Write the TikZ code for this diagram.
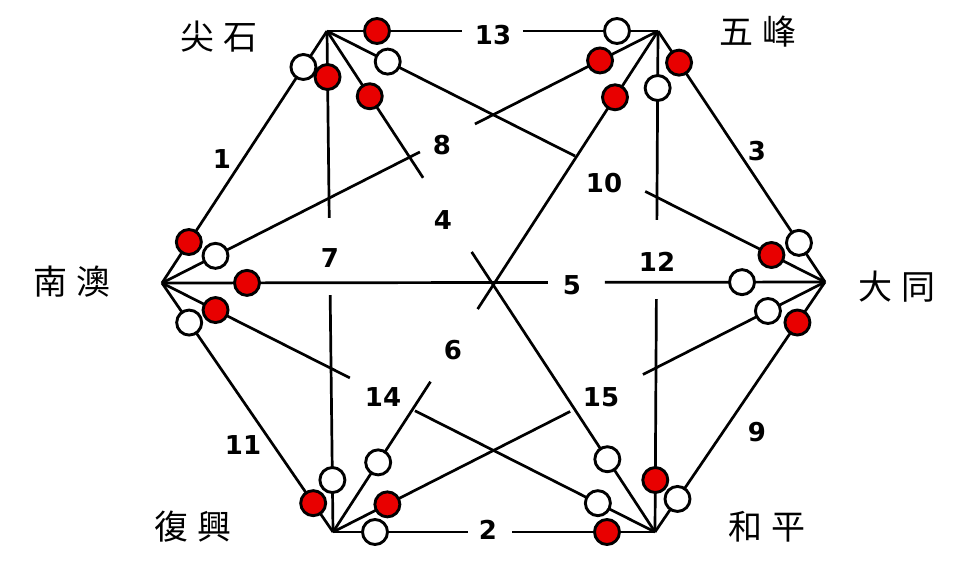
\documentclass[tikz,border=0pt]{standalone}
\usepackage{fontspec}
\setmainfont{DejaVu Sans}
\newfontfamily\cjk{Noto Sans CJK TC}
\usepackage{tikz}
\usetikzlibrary{positioning, %% place names
calc}                        %% dots and gaps on the links
\definecolor{dotred}{RGB}{232,0,0}

\begin{document}
\begin{tikzpicture}[x=1pt,y=-1pt,
                   link/.style={line width=2.7pt},
                   win/.style={circle,draw,line width=2.9pt,fill=dotred,
                               minimum size=25pt,inner sep=0pt},
                   lose/.style={win,fill=white},
                   num/.style={inner sep=0pt,font=\fontsize{26}{26}\selectfont\bfseries},
                   place/.style={inner sep=0pt,font=\cjk\fontsize{34}{34}\selectfont}]
\useasboundingbox (0,0) rectangle (967,563);
\coordinate (js) at (327,31);
\coordinate (wf) at (658,31);
\coordinate (dt) at (825,282);
\coordinate (hp) at (655,532);
\coordinate (fx) at (333,532);
\coordinate (na) at (162,283);

\node[place] (njs) at ($(js)+(-108,6)$) {尖\hspace{9pt}石};
\node[place] (nwf) at ($(wf)+(100,1)$)  {五\hspace{9pt}峰};
\node[place] (ndt) at ($(dt)+(72,5)$)   {大\hspace{9pt}同};
\node[place] (nhp) at ($(hp)+(112,-5)$) {和\hspace{9pt}平};
\node[place] (nfx) at ($(fx)+(-140,-5)$){復\hspace{9pt}興};
\node[place] (nna) at ($(na)+(-90,-1)$) {南\hspace{9pt}澳};

\draw[link] (js) -- (na);
\draw[link] (fx) -- ($(fx)!.419!(hp)$) ($(fx)!.556!(hp)$) -- (hp);
\draw[link] (wf) -- (dt);
\draw[link] (js) -- ($(js)!.293!(hp)$) ($(js)!.441!(hp)$) -- (hp);
\draw[link] (na) -- ($(na)!.582!(dt)$) ($(na)!.668!(dt)$) -- (dt);
\draw[link] (fx) -- ($(fx)!.30!(wf)$)  ($(fx)!.445!(wf)$) -- (wf);
\draw[link] (js) -- ($(js)!.373!(fx)$) ($(js)!.527!(fx)$) -- (fx);
\draw[link] (na) -- ($(na)!.52!(wf)$)  ($(na)!.631!(wf)$) -- (wf);
\draw[link] (dt) -- (hp);
\draw[link] (js) -- ($(js)!.498!(dt)$) ($(js)!.639!(dt)$) -- (dt);
\draw[link] (na) -- (fx);
\draw[link] (wf) -- ($(wf)!.377!(hp)$) ($(wf)!.535!(hp)$) -- (hp);
\draw[link] (js) -- ($(js)!.408!(wf)$) ($(js)!.592!(wf)$) -- (wf);
\draw[link] (na) -- ($(na)!.381!(hp)$) ($(na)!.513!(hp)$) -- (hp);
\draw[link] (fx) -- ($(fx)!.482!(dt)$) ($(fx)!.63!(dt)$)  -- (dt);

\node[lose] (js1)  at ($(js)!43pt!(na)$) {};
\node[win]  (na1)  at ($(na)!49pt!(js)$) {};
\node[lose] (fx2)  at ($(fx)!42pt!(hp)$) {};
\node[win]  (hp2)  at ($(hp)!48pt!(fx)$) {};
\node[win]  (wf3)  at ($(wf)!38pt!(dt)$) {};
\node[lose] (dt3)  at ($(dt)!47pt!(wf)$) {};
\node[win]  (js4)  at ($(js)!78pt!(hp)$) {};
\node[lose] (hp4)  at ($(hp)!87pt!(js)$) {};
\node[win]  (na5)  at ($(na)!85pt!(dt)$) {};
\node[lose] (dt5)  at ($(dt)!83pt!(na)$) {};
\node[lose] (fx6)  at ($(fx)!83pt!(wf)$) {};
\node[win]  (wf6)  at ($(wf)!79pt!(fx)$) {};
\node[win]  (js7)  at ($(js)!46pt!(fx)$) {};
\node[lose] (fx7)  at ($(fx)!52pt!(js)$) {};
\node[lose] (na8)  at ($(na)!60pt!(wf)$) {};
\node[win]  (wf8)  at ($(wf)!65pt!(na)$) {};
\node[win]  (dt9)  at ($(dt)!49pt!(hp)$) {};
\node[lose] (hp9)  at ($(hp)!40pt!(dt)$) {};
\node[lose] (js10) at ($(js)!68pt!(dt)$) {};
\node[win]  (dt10) at ($(dt)!60pt!(js)$) {};
\node[lose] (na11) at ($(na)!48pt!(fx)$) {};
\node[win]  (fx11) at ($(fx)!35pt!(na)$) {};
\node[lose] (wf12) at ($(wf)!57pt!(hp)$) {};
\node[win]  (hp12) at ($(hp)!52pt!(wf)$) {};
\node[win]  (js13) at ($(js)!50pt!(wf)$) {};
\node[lose] (wf13) at ($(wf)!41pt!(js)$) {};
\node[win]  (na14) at ($(na)!60pt!(hp)$) {};
\node[lose] (hp14) at ($(hp)!64pt!(na)$) {};
\node[win]  (fx15) at ($(fx)!61pt!(dt)$) {};
\node[lose] (dt15) at ($(dt)!64pt!(fx)$) {};

\node[num] (n1)  at (222,159) {1};
\node[num] (n2)  at (488,530) {2};
\node[num] (n3)  at (757,151) {3};
\node[num] (n4)  at (443,220) {4};
\node[num] (n5)  at (572,285) {5};
\node[num] (n6)  at (453,350) {6};
\node[num] (n7)  at (330,258) {7};
\node[num] (n8)  at (442,145) {8};
\node[num] (n9)  at (757,432) {9};
\node[num] (n10) at (604,183) {10};
\node[num] (n11) at (243,445) {11};
\node[num] (n12) at (657,262) {12};
\node[num] (n13) at (493,35)  {13};
\node[num] (n14) at (383,397) {14};
\node[num] (n15) at (601,397) {15};
\end{tikzpicture}
\end{document}
